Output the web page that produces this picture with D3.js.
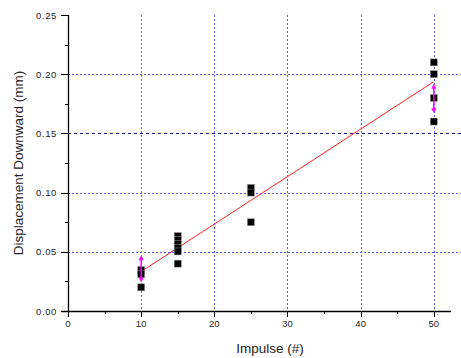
<!DOCTYPE html>
<html>
<head>
    <script src="https://d3js.org/d3.v7.min.js"></script>
    <style>
        body { margin: 0; background-color: #ffffff; }
        text { font-family: "Liberation Sans", Arial, sans-serif; }
    </style>
</head>
<body>
<div id="chart"></div>
<script>
    // Measured points (impulse, displacement)
    var impulse = [10, 10, 10, 15, 15, 15, 15, 15, 15, 25, 25, 25, 50, 50, 50, 50];
    var displacement = [0.0347, 0.031, 0.020, 0.0633, 0.060, 0.0565, 0.0533, 0.0503, 0.040,
                        0.104, 0.100, 0.075, 0.210, 0.200, 0.180, 0.160];

    // Error bars (mean and half-width)
    var errX = [10, 50];
    var errMean = [0.0355, 0.1795];
    var errHalf = [0.0115, 0.0125];

    // Fit line endpoints
    var fitX = [10, 50];
    var fitY = [0.0333, 0.1937];

    var xTicks = [0, 10, 20, 30, 40, 50];
    var yTicks = [0, 0.05, 0.10, 0.15, 0.20, 0.25];
    var xGrid = [10, 20, 30, 40, 50];
    var yGrid = [0.05, 0.10, 0.15, 0.20];

    var W = 461, H = 358;
    var pLeft = 68, pTop = 15, pBottom = 311, pRight = 451;

    var svg = d3.select("#chart").append("svg")
        .attr("width", W)
        .attr("height", H);

    var x = d3.scaleLinear().domain([0, 52.35]).range([pLeft, pRight]);
    var y = d3.scaleLinear().domain([0, 0.25]).range([pBottom, pTop]);

    // Grid lines
    svg.append("g").selectAll("line")
        .data(yGrid)
        .join("line")
        .attr("x1", pLeft)
        .attr("x2", 461)
        .attr("y1", d => Math.round(y(d)) + 0.5)
        .attr("y2", d => Math.round(y(d)) + 0.5)
        .attr("stroke", d => d === 0.15 ? "#10108a" : "#5a5aff")
        .attr("stroke-dasharray", d => d === 0.15 ? "3,3" : "2,2")
        .attr("shape-rendering", "crispEdges");

    svg.append("g").selectAll("line")
        .data(xGrid)
        .join("line")
        .attr("x1", d => Math.round(x(d)) + 0.5)
        .attr("x2", d => Math.round(x(d)) + 0.5)
        .attr("y1", pTop)
        .attr("y2", pBottom)
        .attr("stroke", "#5a5aff")
        .attr("stroke-dasharray", "2,2")
        .attr("shape-rendering", "crispEdges");

    // X axis
    var gx = svg.append("g")
        .attr("transform", "translate(0," + pBottom + ")");
    gx.append("line")
        .attr("x1", pLeft - 7).attr("x2", pRight)
        .attr("y1", 0.5).attr("y2", 0.5)
        .attr("stroke", "#000").attr("stroke-width", 1.3);
    gx.selectAll(".tk")
        .data(d3.range(0, 51, 5))
        .join("line")
        .attr("x1", d => Math.round(x(d)) + 0.5)
        .attr("x2", d => Math.round(x(d)) + 0.5)
        .attr("y1", 0)
        .attr("y2", d => d % 10 === 0 ? 6 : 3)
        .attr("stroke", "#000");
    gx.selectAll("text")
        .data(xTicks)
        .join("text")
        .attr("x", d => x(d))
        .attr("y", 16)
        .attr("text-anchor", "middle")
        .attr("font-size", 9.5)
        .attr("fill", "#222")
        .text(d => d);

    // Y axis
    var gy = svg.append("g");
    gy.append("line")
        .attr("x1", pLeft + 0.5).attr("x2", pLeft + 0.5)
        .attr("y1", pTop).attr("y2", pBottom)
        .attr("stroke", "#000").attr("stroke-width", 1.3);
    gy.selectAll(".tk")
        .data(d3.range(0, 0.2501, 0.025))
        .join("line")
        .attr("x1", (d, i) => i % 2 === 0 ? pLeft - 7 : pLeft - 3)
        .attr("x2", pLeft)
        .attr("y1", d => Math.round(y(d)) + 0.5)
        .attr("y2", d => Math.round(y(d)) + 0.5)
        .attr("stroke", "#000");
    gy.selectAll("text")
        .data(yTicks)
        .join("text")
        .attr("x", 57)
        .attr("y", d => y(d) + 3.5)
        .attr("text-anchor", "end")
        .attr("font-size", 9.5)
        .attr("letter-spacing", 0.6)
        .attr("fill", "#222")
        .text(d => d3.format(".2f")(d));

    // Axis titles
    svg.append("text")
        .attr("x", 270)
        .attr("y", 353)
        .attr("text-anchor", "middle")
        .attr("font-size", 13.5)
        .attr("fill", "#222")
        .text("Impulse (#)");

    svg.append("text")
        .attr("transform", "translate(23," + ((pTop + pBottom) / 2) + ") rotate(-90)")
        .attr("text-anchor", "middle")
        .attr("font-size", 13.5)
        .attr("fill", "#222")
        .text("Displacement Downward (mm)");

    // Fit line
    svg.append("line")
        .attr("x1", x(fitX[0])).attr("y1", y(fitY[0]))
        .attr("x2", x(fitX[1])).attr("y2", y(fitY[1]))
        .attr("stroke", "#ff2020")
        .attr("stroke-width", 1);

    // Points
    svg.append("g").selectAll("rect")
        .data(impulse)
        .join("rect")
        .attr("x", d => x(d) - 3.5)
        .attr("y", (d, i) => y(displacement[i]) - 3.5)
        .attr("width", 7)
        .attr("height", 7)
        .attr("fill", "#000")
        .attr("stroke", "#999")
        .attr("stroke-width", 0.5);

    // Error bars with arrow heads
    var eb = svg.append("g");
    errX.forEach(function (ex, i) {
        var cx = x(ex);
        var yTop = y(errMean[i] + errHalf[i]);
        var yBot = y(errMean[i] - errHalf[i]);
        eb.append("line")
            .attr("x1", cx).attr("x2", cx)
            .attr("y1", yTop + 3).attr("y2", yBot - 3)
            .attr("stroke", "#ff00ff")
            .attr("stroke-width", 1.5);
        eb.append("path")
            .attr("d", "M" + (cx - 2.5) + "," + (yTop + 5) + "L" + cx + "," + yTop + "L" + (cx + 2.5) + "," + (yTop + 5) + "Z")
            .attr("fill", "#ff00ff");
        eb.append("path")
            .attr("d", "M" + (cx - 2.5) + "," + (yBot - 5) + "L" + cx + "," + yBot + "L" + (cx + 2.5) + "," + (yBot - 5) + "Z")
            .attr("fill", "#ff00ff");
    });
</script>
</body>
</html>
